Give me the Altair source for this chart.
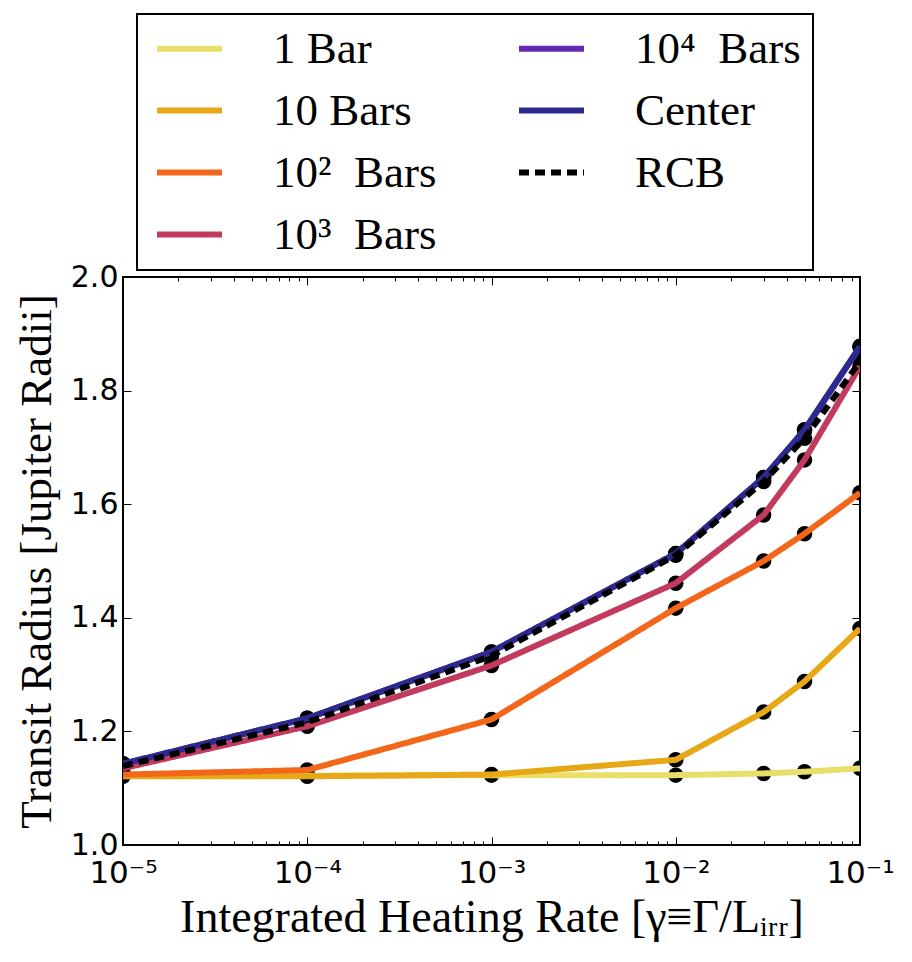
import altair as alt
import pandas as pd

# Integrated heating rate gamma = Gamma / L_irr sampled by the models
heating_rate = [1e-5, 1e-4, 1e-3, 1e-2, 3e-2, 5e-2, 1e-1]

# Transit radius [R_J] when the heating is deposited at each pressure level
radius_1bar = [1.122, 1.122, 1.123, 1.123, 1.126, 1.129, 1.135]
radius_10bar = [1.121, 1.121, 1.124, 1.150, 1.234, 1.288, 1.381]
radius_100bar = [1.124, 1.132, 1.221, 1.417, 1.500, 1.548, 1.620]
radius_1000bar = [1.135, 1.209, 1.316, 1.461, 1.581, 1.678, 1.843]
radius_10000bar = [1.143, 1.223, 1.340, 1.513, 1.647, 1.730, 1.877]
radius_center = [1.143, 1.223, 1.340, 1.513, 1.647, 1.731, 1.878]
radius_rcb = [1.139, 1.216, 1.333, 1.510, 1.640, 1.716, 1.851]

series_names = ["1 Bar", "10 Bars", "10\u00b2\u2002Bars", "10\u00b3\u2002Bars",
                "10\u2074\u2002Bars", "Center", "RCB"]
series_values = [radius_1bar, radius_10bar, radius_100bar, radius_1000bar,
                 radius_10000bar, radius_center, radius_rcb]
series_colors = ["#e8df6a", "#e6a816", "#f3671b", "#c23b5e", "#6329b4", "#2c2a8e", "#000000"]

x_major = [1e-5, 1e-4, 1e-3, 1e-2, 1e-1]
x_minor = [m * 10.0 ** k for k in range(-5, -1) for m in range(2, 10)]
y_major = [1.0, 1.2, 1.4, 1.6, 1.8, 2.0]

rows = []
for name, values in zip(series_names, series_values):
    for rate, radius in zip(heating_rate, values):
        rows.append({"rate": rate, "radius": radius, "series": name})
df = pd.DataFrame(rows)

color_scale = alt.Scale(domain=series_names, range=series_colors)
dash_scale = alt.Scale(domain=series_names,
                       range=[[10, 6] if n == "RCB" else [1, 0] for n in series_names])

x_scale = alt.Scale(type="log", domain=[1e-5, 1e-1], nice=False)
y_scale = alt.Scale(domain=[1.0, 2.0], nice=False, zero=False)

TICK_FONT = "DejaVu Sans"
SERIF = "Liberation Serif"
exp_labels = "['\u207b\u2075','\u207b\u2074','\u207b\u00b3','\u207b\u00b2','\u207b\u00b9']"


def inner_ticks(orient, values, size):
    # ticks drawn inward from the plot frame
    return alt.Axis(orient=orient, values=values, tickSize=size, offset=-size,
                    domain=False, grid=False, labels=False, title=None,
                    tickColor="black", tickWidth=1)


x_bottom = alt.Axis(
    orient="bottom", values=x_major, tickSize=8, offset=-8, domain=False, grid=False,
    tickColor="black", tickWidth=1,
    labelExpr="'10' + " + exp_labels + "[round(log(datum.value) / LN10) + 5]",
    labelFont=TICK_FONT, labelFontSize=31, labelColor="black", labelPadding=13,
    labelFlush=False, labelOverlap=False, labelBound=False,
    title="Integrated Heating Rate [\u03b3\u2261\u0393/L\u1d62\u1d63\u1d63]",
    titleFont=SERIF, titleFontSize=46, titleFontWeight="normal", titleColor="black",
    titlePadding=7,
)
y_left = alt.Axis(
    orient="left", values=y_major, tickSize=8, offset=-8, domain=False, grid=False,
    tickColor="black", tickWidth=1, format=".1f",
    labelFont=TICK_FONT, labelFontSize=30, labelColor="black", labelPadding=5,
    labelFlush=False, labelOverlap=False, labelBound=False,
    title="Transit Radius [Jupiter Radii]",
    titleFont=SERIF, titleFontSize=45, titleFontWeight="normal", titleColor="black",
    titlePadding=11,
)

base = alt.Chart(df)

points = base.mark_circle(color="black", opacity=1, size=240, clip=True).encode(
    x=alt.X("rate:Q", scale=x_scale, axis=x_bottom),
    y=alt.Y("radius:Q", scale=y_scale, axis=y_left),
)

lines = base.mark_line(strokeWidth=6, strokeCap="butt", strokeJoin="round", clip=True).encode(
    x=alt.X("rate:Q", scale=x_scale, axis=inner_ticks("bottom", x_minor, 4)),
    y=alt.Y("radius:Q", scale=y_scale, axis=inner_ticks("right", y_major, 8)),
    color=alt.Color("series:N", scale=color_scale, legend=alt.Legend(title=None)),
    strokeDash=alt.StrokeDash("series:N", scale=dash_scale, legend=alt.Legend(title=None)),
    order=alt.Order("rate:Q"),
)

top_major = base.mark_point(opacity=0).encode(
    x=alt.X("rate:Q", scale=x_scale, axis=inner_ticks("top", x_major, 8)),
    y=alt.Y("radius:Q", scale=y_scale, axis=None),
)
top_minor = base.mark_point(opacity=0).encode(
    x=alt.X("rate:Q", scale=x_scale, axis=inner_ticks("top", x_minor, 4)),
    y=alt.Y("radius:Q", scale=y_scale, axis=None),
)

chart = (
    alt.layer(points, lines, top_major, top_minor)
    .resolve_axis(x="independent", y="independent")
    .properties(
        width=737, height=568,
        padding={"left": 123, "top": 277, "right": 52, "bottom": 117},
        autosize=alt.AutoSizeParams(type="none"),
        background="white",
    )
    .configure_view(stroke="black", strokeWidth=2)
    .configure_legend(
        orient="none", legendX=14, legendY=-263,
        columns=2, columnPadding=70, rowPadding=16, padding=12,
        strokeColor="black", strokeWidth=2, fillColor="white", cornerRadius=0,
        symbolType="M-2,0H2", symbolSize=1056, symbolStrokeWidth=6, symbolOffset=18,
        labelFont=SERIF, labelFontSize=45, labelColor="black", labelOffset=61,
        labelLimit=500,
    )
)

chart.save("out.html", embed_options={"renderer": "svg", "actions": False})
